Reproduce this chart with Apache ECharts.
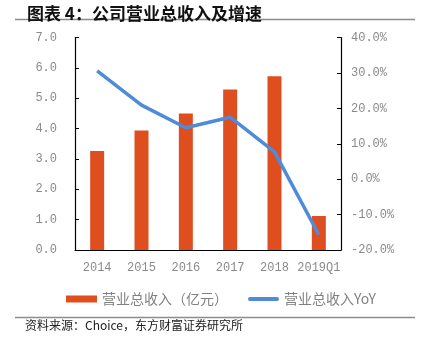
<!DOCTYPE html>
<html>
<head>
<meta charset="utf-8">
<script src="https://cdn.jsdelivr.net/npm/echarts@6/dist/echarts.min.js"></script>
<style>
html,body{margin:0;padding:0;background:#fff;}
#c{width:423px;height:348px;}
</style>
</head>
<body>
<div id="c"></div>
<script>
var categories = ['2014', '2015', '2016', '2017', '2018', '2019Q1'];
var revenue = [3.26, 3.94, 4.50, 5.29, 5.72, 1.12];
var yoy = [30.6, 20.9, 14.5, 17.5, 7.7, -15.7];
var revenueName = '营业总收入（亿元）';
var yoyName = '营业总收入YoY';
var titleText = '图表 4：公司营业总收入及增速';
var sourceText = '资料来源：Choice，东方财富证券研究所';

var labelFont = {color: '#8a8a8a', fontFamily: 'Liberation Mono', fontSize: 12};
var chart = echarts.init(document.getElementById('c'), null, {renderer: 'canvas'});
chart.setOption({
  animation: false,
  backgroundColor: '#fff',
  title: {
    text: titleText, left: 22, top: 0,
    textStyle: {fontFamily: 'Noto Sans CJK SC', fontWeight: 'bold', fontSize: 17, color: '#111'}
  },
  graphic: [
    {type: 'line', shape: {x1: 15, y1: 19.5, x2: 415, y2: 19.5}, style: {stroke: '#8c8c8c', lineWidth: 1.5}},
    {type: 'line', shape: {x1: 15, y1: 317.5, x2: 415, y2: 317.5}, style: {stroke: '#8c8c8c', lineWidth: 1.5}},
    {type: 'text', left: 25, top: 319, style: {text: sourceText, fontFamily: 'Noto Sans CJK SC', fontSize: 12, fill: '#222'}}
  ],
  legend: {
    left: 61, top: 287, itemGap: 20, itemWidth: 31, itemHeight: 7,
    textStyle: {color: '#808080', fontFamily: 'Noto Sans CJK SC', fontSize: 14},
    data: [
      {name: revenueName, icon: 'rect'},
      {name: yoyName, icon: 'path://M2,0 L29,0 A2,2 0 0 1 29,4 L2,4 A2,2 0 0 1 2,0 Z'}
    ]
  },
  grid: {left: 75, right: 82, top: 37.5, bottom: 98, containLabel: false},
  xAxis: {
    type: 'category', data: categories, boundaryGap: true,
    axisLine: {lineStyle: {color: '#000', width: 1.2}},
    axisTick: {inside: true, length: 4, lineStyle: {color: '#000'}},
    axisLabel: Object.assign({margin: 12, interval: 0}, labelFont)
  },
  yAxis: [
    {
      type: 'value', min: 0, max: 7, interval: 1, position: 'left',
      axisLine: {show: true, lineStyle: {color: '#000', width: 1.2}},
      axisTick: {show: true, inside: true, length: 4, lineStyle: {color: '#000'}},
      splitLine: {show: false},
      axisLabel: Object.assign({margin: 18, formatter: function(v){return v.toFixed(1);}}, labelFont)
    },
    {
      type: 'value', min: -20, max: 40, interval: 10, position: 'right',
      axisLine: {show: true, lineStyle: {color: '#000', width: 1.2}},
      axisTick: {show: true, inside: true, length: 4, lineStyle: {color: '#000'}},
      splitLine: {show: false},
      axisLabel: Object.assign({margin: 10, formatter: function(v){return v.toFixed(1) + '%';}}, labelFont)
    }
  ],
  series: [
    {
      name: revenueName, type: 'bar', data: revenue, barWidth: 14, yAxisIndex: 0,
      itemStyle: {color: '#DF4E1E'}
    },
    {
      name: yoyName, type: 'line', data: yoy, yAxisIndex: 1, showSymbol: false, symbol: 'none',
      lineStyle: {color: '#4E8BD9', width: 3.5}, itemStyle: {color: '#4E8BD9'}
    }
  ]
});
</script>
</body>
</html>
